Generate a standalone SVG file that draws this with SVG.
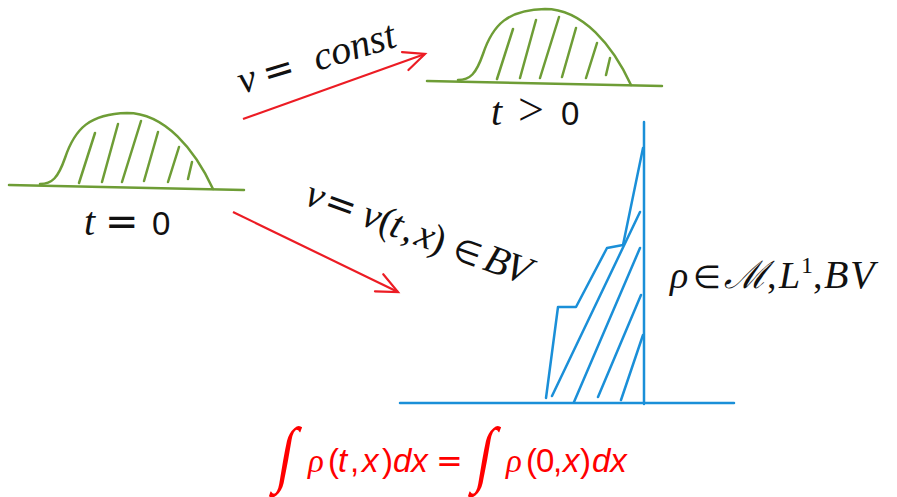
<svg xmlns="http://www.w3.org/2000/svg" width="897" height="497" viewBox="0 0 897 497">
<style>
.g{fill:none;stroke:#6e9d36;stroke-width:2.5;stroke-linecap:round}
.b{fill:none;stroke:#1a8fd8;stroke-width:2.5;stroke-linecap:round;stroke-linejoin:round}
.r{fill:none;stroke:#ec1c24;stroke-width:2.2}
.m{font-family:"Liberation Serif","DejaVu Serif",serif;font-style:italic;fill:#111}
.up{font-style:normal}
.op{font-family:"DejaVu Sans",sans-serif;font-style:normal}
.sn{font-family:"Liberation Sans","DejaVu Sans",sans-serif;font-style:normal}
.it{font-style:italic}
.red{fill:#ff0000}
</style>
<defs>
<marker id="ah" markerUnits="userSpaceOnUse" orient="auto" refX="0" refY="0" overflow="visible">
<path d="M-21,-9.5 L0,0 L-21,9.5" fill="none" stroke="#ec1c24" stroke-width="2.2" stroke-linecap="round"/>
</marker>
<g id="bump">
<path class="g" d="M9,185 L244,190"/>
<path class="g" d="M40,184 C52,184 58,178 65,158 C75,128 90,114 127,113 C165,113 195,150 213,189"/>
<path class="g" d="M79,183 L95,133 M102,182 L118,124 M122,182 L141,121 M144,181 L158,132 M168,182 L179,147 M188,179 L192,162"/>
</g>
</defs>

<g id="initial">
<use href="#bump"/>
<text class="m" font-size="40" y="235"><tspan x="84">t</tspan><tspan class="op" font-size="40" x="105">=</tspan><tspan class="sn" font-size="33" x="152">0</tspan></text>
</g>

<g id="later">
<use href="#bump" transform="translate(418,-104)"/>
<text class="m" font-size="40" y="125"><tspan x="491">t</tspan><tspan class="up" font-size="46" x="518">&gt;</tspan><tspan class="sn" font-size="33" x="561">0</tspan></text>
</g>

<g id="shock">
<path class="b" d="M644,122 L644,404 M400,403 L734,403"/>
<path class="b" d="M546,398 L558,307 L576,307 L607,248 L623,245 L643,148"/>
<path class="b" d="M552,396 L640,212 M574,402 L640,248 M598,397 L641,295 M621,400 L643,335"/>
<text class="m" font-size="38" y="288"><tspan x="670">ρ</tspan><tspan class="op" font-size="32" x="693">∈</tspan><tspan x="724">ℳ</tspan><tspan class="up" x="767">,</tspan><tspan x="779">L</tspan><tspan class="up" font-size="24" x="801" y="273">1</tspan><tspan class="up" x="813" y="288">,</tspan><tspan font-size="40" x="824">B</tspan><tspan font-size="40" x="850">V</tspan></text>
</g>

<g id="connectors">
<path class="r" d="M243,119 L425,54" marker-end="url(#ah)"/>
<path class="r" d="M233,212 L398,292" marker-end="url(#ah)"/>
<text class="m" font-size="40" transform="translate(242,94) rotate(-17)"><tspan x="0" y="0">v</tspan><tspan class="op" font-size="38" x="26">=</tspan><tspan x="79">const</tspan></text>
<text class="m" font-size="40" transform="translate(303,204) rotate(20)"><tspan x="0" y="0">v</tspan><tspan class="op" font-size="38" x="20">=</tspan><tspan x="60">v</tspan><tspan class="up" x="78">(</tspan><tspan x="90">t</tspan><tspan class="up" x="104">,</tspan><tspan x="117">x</tspan><tspan class="up" x="133">)</tspan><tspan class="op" font-size="32" x="157">∈</tspan><tspan x="190">B</tspan><tspan x="212">V</tspan></text>
</g>

<g id="conservation">
<text class="m red" font-size="56" transform="translate(275,478) skewX(-10) scale(1,1.3)">∫</text>
<text class="m red" font-size="56" transform="translate(474,478) skewX(-10) scale(1,1.3)">∫</text>
<text class="sn red" font-size="33" y="472"><tspan class="m red" x="308">ρ</tspan><tspan x="328">(</tspan><tspan class="it" x="338">t</tspan><tspan x="350">,</tspan><tspan class="it" x="362">x</tspan><tspan x="382">)</tspan><tspan class="it" x="393">dx</tspan><tspan class="op" font-size="32" x="436">=</tspan><tspan class="m red" x="506">ρ</tspan><tspan x="526">(</tspan><tspan x="536">0</tspan><tspan x="553">,</tspan><tspan class="it" x="563">x</tspan><tspan x="580">)</tspan><tspan class="it" x="592">dx</tspan></text>
</g>
</svg>
